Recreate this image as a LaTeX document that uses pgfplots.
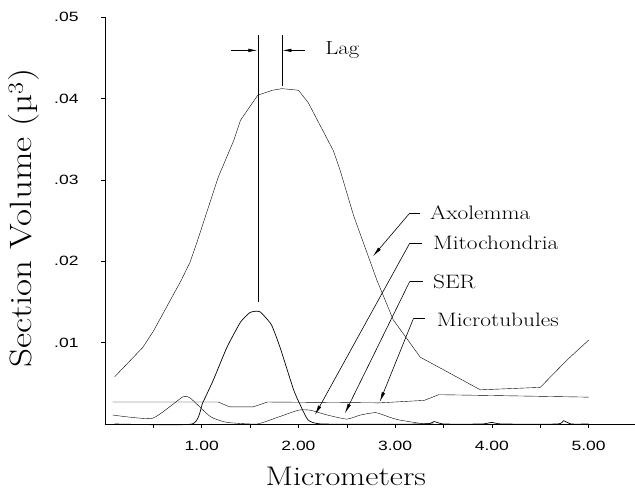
\documentclass[border=0pt]{standalone}
\usepackage{fontspec}
\usepackage{pgfplots}
\pgfplotsset{compat=1.18}
\usetikzlibrary{arrows.meta}
\newfontfamily\labfont[FakeStretch=1.2]{lmroman17-regular.otf}
\newfontfamily\tickfont[FakeStretch=1.3]{Liberation Sans}
\begin{document}
\begin{tikzpicture}
\begin{axis}[
  scale only axis, width=532bp, height=407bp,
  xmin=0, xmax=5.5, ymin=0, ymax=0.05,
  axis x line=bottom, axis y line=left,
  axis line style={-, line width=0.8pt},
  xtick={1,2,3,4,5}, xticklabels={1.00,2.00,3.00,4.00,5.00},
  minor xtick={0.5,1.5,2.5,3.5,4.5},
  ytick={0.01,0.02,0.03,0.04,0.05}, yticklabels={.01,.02,.03,.04,.05},
  scaled y ticks=false,
  tick align=outside,
  major tick length=4bp, minor tick length=4bp,
  every tick/.style={black, line width=0.6pt},
  x tick label style={font=\tickfont\fontsize{13.5}{15}\selectfont, yshift=-10bp},
  y tick label style={font=\tickfont\fontsize{13.5}{15}\selectfont, xshift=-19bp},
  clip=false,
  cycle list={{black, line width=0.7pt, mark=none}},
]
% Axolemma
\addplot coordinates {(0.10,.0058) (0.39,.0094) (0.50,.0114) (0.79,.0177) (0.88,.0199) (0.95,.0223) (1.17,.0303) (1.33,.0348) (1.40,.0373) (1.58,.0404) (1.73,.0410) (1.83,.0412) (2.00,.0410) (2.10,.0395) (2.36,.0336) (2.43,.0312) (2.57,.0256) (2.81,.0177) (2.98,.0128) (3.26,.0082) (3.54,.0064) (3.88,.0042) (4.50,.0045) (4.78,.0079) (5.00,.0103)};
% large peak curve
\addplot+[smooth, tension=0.3] coordinates {(0.1,0) (0.9,0) (1.01,.0026) (1.12,.0054) (1.26,.0094) (1.40,.0125) (1.50,.0137) (1.60,.0138) (1.72,.0122) (1.81,.0094) (1.95,.0042) (2.02,.0023) (2.10,.0005) (2.25,0) (3.3,0) (3.4,.0003) (3.5,0) (3.9,0) (4.0,.0002) (4.1,0) (4.68,0) (4.74,.0004) (4.82,0) (5.0,0)};
% low curve with bumps
\addplot+[smooth, tension=0.3] coordinates {(0.08,.0011) (0.49,.0007) (0.80,.0033) (0.88,.0032) (1.09,.0009) (1.26,.0002) (1.57,0) (1.78,.0008) (2.00,.0017) (2.12,.0017) (2.30,.0011) (2.50,.0006) (2.64,.0011) (2.80,.0014) (2.95,.0008) (3.04,.0005) (3.25,.0001) (3.4,0)};
% Microtubules (flat)
\addplot coordinates {(0.08,.0027) (1.17,.0027) (1.29,.0021) (1.53,.0021) (1.68,.0027) (2.84,.0026) (3.30,.0029) (3.45,.0036) (4.0,.0035) (5.0,.0033)};

% Lag lines and arrows
\draw[line width=0.6pt] (axis cs:1.58,.0150) -- (axis cs:1.58,.0478);
\draw[line width=0.6pt] (axis cs:1.83,.0415) -- (axis cs:1.83,.0478);
\draw[line width=0.6pt, -{Latex[length=9bp,width=3.5bp]}] (axis cs:1.30,.0459) -- (axis cs:1.575,.0459);
\draw[line width=0.6pt, -{Latex[length=9bp,width=3.5bp]}] (axis cs:2.07,.0459) -- (axis cs:1.835,.0459);
\node[anchor=west, font=\labfont\fontsize{19}{22}\selectfont, inner sep=0pt] at (axis cs:2.275,.0460) {Lag};

% Leaders
\draw[line width=0.6pt] (axis cs:3.15,.0259) -- (axis cs:3.26,.0259);
\draw[line width=0.6pt, -{Latex[length=10bp,width=3.5bp]}] (axis cs:3.15,.0259) -- (axis cs:2.77,.0206);
\draw[line width=0.6pt] (axis cs:3.15,.0222) -- (axis cs:3.28,.0222);
\draw[line width=0.6pt, -{Latex[length=10bp,width=3.5bp]}] (axis cs:3.15,.0222) -- (axis cs:2.17,.0011);
\draw[line width=0.6pt] (axis cs:3.15,.0175) -- (axis cs:3.29,.0175);
\draw[line width=0.6pt, -{Latex[length=10bp,width=3.5bp]}] (axis cs:3.15,.0175) -- (axis cs:2.48,.0013);
\draw[line width=0.6pt] (axis cs:3.19,.0130) -- (axis cs:3.31,.0130);
\draw[line width=0.6pt, -{Latex[length=10bp,width=3.5bp]}] (axis cs:3.19,.0130) -- (axis cs:2.84,.0027);

\node[anchor=west, font=\labfont\fontsize{19.5}{22}\selectfont, inner sep=0pt] at (axis cs:3.36,.0259) {Axolemma};
\node[anchor=west, font=\labfont\fontsize{19.5}{22}\selectfont, inner sep=0pt] at (axis cs:3.39,.0222) {Mitochondria};
\node[anchor=west, font=\labfont\fontsize{19.5}{22}\selectfont, inner sep=0pt] at (axis cs:3.39,.0174) {SER};
\node[anchor=west, font=\labfont\fontsize{19.5}{22}\selectfont, inner sep=0pt] at (axis cs:3.43,.0128) {Microtubules};

% axis titles
\node[anchor=base, font=\labfont\fontsize{27}{30}\selectfont, inner sep=0pt] at (axis cs:2.49,-.0075) {Micrometers};
\node[anchor=base, rotate=90, font=\labfont\fontsize{31}{34}\selectfont, inner sep=0pt] at (axis cs:-0.755,.0253) {Section Volume (µ\textsuperscript{3})};

\coordinate (O) at (axis cs:0,0);
\end{axis}
\pgfresetboundingbox
\path ([xshift=-105bp,yshift=-67bp]O) rectangle ([xshift=530bp,yshift=424bp]O);
\end{tikzpicture}
\end{document}
